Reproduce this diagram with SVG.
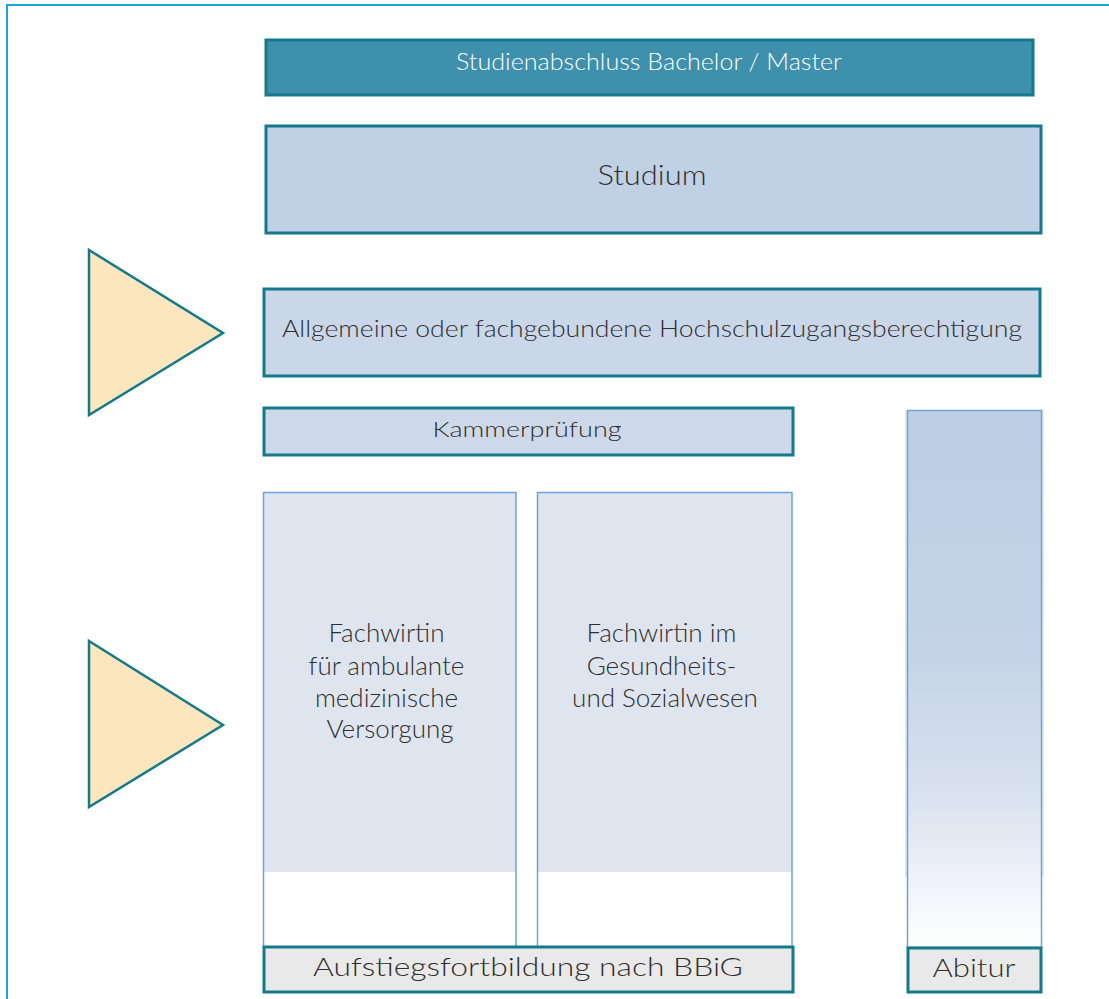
<svg xmlns="http://www.w3.org/2000/svg" width="1109" height="999" viewBox="0 0 1109 999">
<style>
.t{font-family:Lato,"Open Sans","Liberation Sans",sans-serif;font-weight:300;fill:#2e2e2e;text-anchor:middle}
.box{stroke:#15798c;stroke-width:3}
.col{stroke:#6aa5d6;stroke-width:1.5}
.tri{fill:#fbe6bd;stroke:#15798c;stroke-width:2.5;stroke-linejoin:miter}
</style>
<defs>
<linearGradient id="abi" x1="0" y1="0" x2="0" y2="1">
<stop offset="0" stop-color="#bccfe5"/>
<stop offset="0.45" stop-color="#c4d3e7"/>
<stop offset="0.72" stop-color="#d9e2ef"/>
<stop offset="0.87" stop-color="#eef2f8"/>
<stop offset="1" stop-color="#ffffff"/>
</linearGradient>
</defs>
<rect width="1109" height="999" fill="#fff"/>
<rect x="7" y="5" width="1120" height="1010" fill="none" stroke="#1aa7d6" stroke-width="2"/>
<g id="connectors"/>
<g id="tri1"><polygon class="tri" points="89,250 223,333 89,415"/></g>
<g id="tri2"><polygon class="tri" points="89,641 223,725 89,807"/></g>
<g id="abschluss">
<rect class="box" x="266" y="40" width="767" height="55" fill="#3e90ad"/>
<text class="t" x="649" y="70" font-size="24" style="fill:#fff" textLength="386" lengthAdjust="spacingAndGlyphs">Studienabschluss Bachelor / Master</text>
</g>
<g id="studium">
<rect class="box" x="266" y="126" width="775" height="107" fill="#c1d1e5"/>
<text class="t" x="652" y="185" font-size="28" textLength="109" lengthAdjust="spacingAndGlyphs">Studium</text>
</g>
<g id="hzb">
<rect class="box" x="264" y="289" width="776" height="87" fill="#c9d7e8"/>
<text class="t" x="652" y="337" font-size="23" textLength="740" lengthAdjust="spacingAndGlyphs">Allgemeine oder fachgebundene Hochschulzugangsberechtigung</text>
</g>
<g id="kammer">
<rect class="box" x="264" y="408" width="529" height="47" fill="#cdd9e8"/>
<text class="t" x="527" y="437" font-size="22" textLength="189" lengthAdjust="spacingAndGlyphs">Kammerprüfung</text>
</g>
<g id="fw1">
<rect x="263" y="492" width="253" height="380" fill="#dfe5ef"/>
<rect class="col" x="263.5" y="492.5" width="252.5" height="455" fill="none"/>
<text class="t" font-size="26">
<tspan x="390" y="642">Fachwirtin</tspan>
<tspan x="390" y="675">für ambulante</tspan>
<tspan x="390" y="707">medizinische</tspan>
<tspan x="390" y="738">Versorgung</tspan>
</text>
</g>
<g id="fw2">
<rect x="537" y="492" width="255" height="380" fill="#dfe5ef"/>
<rect class="col" x="537.5" y="492.5" width="254.5" height="455" fill="none"/>
<text class="t" font-size="26">
<tspan x="665" y="642">Fachwirtin im</tspan>
<tspan x="665" y="675">Gesundheits-</tspan>
<tspan x="665" y="707">und Sozialwesen</tspan>
</text>
</g>
<g id="abitur-col">
<rect x="905" y="410" width="139" height="467" fill="#c6d5e8" opacity="0.5"/>
<rect x="907.5" y="410.5" width="134" height="537" fill="url(#abi)" stroke="#6aa5d6" stroke-width="1.5"/>
</g>
<g id="aufstieg">
<rect class="box" x="264" y="947" width="529" height="45" fill="#e9e9e9"/>
<text class="t" x="528" y="976" font-size="26" textLength="430" lengthAdjust="spacingAndGlyphs">Aufstiegsfortbildung nach BBiG</text>
</g>
<g id="abitur">
<rect class="box" x="908" y="948" width="133" height="44" fill="#e9e9e9"/>
<text class="t" x="974" y="977" font-size="25" textLength="83" lengthAdjust="spacingAndGlyphs">Abitur</text>
</g>
</svg>
